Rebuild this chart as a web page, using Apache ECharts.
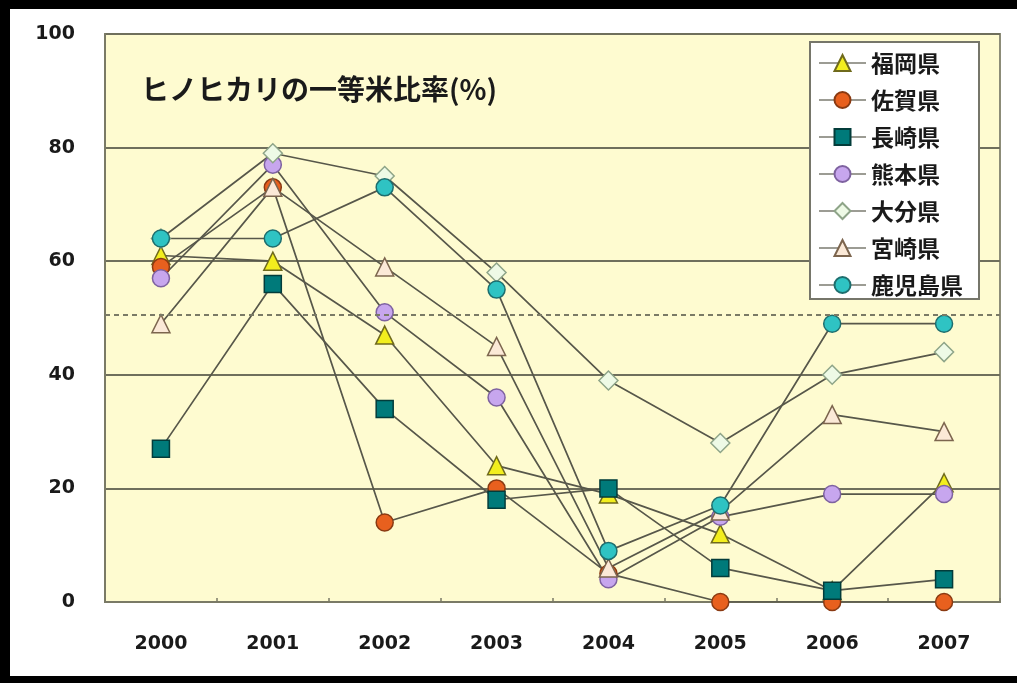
<!DOCTYPE html>
<html>
<head>
<meta charset="utf-8">
<script src="https://cdn.jsdelivr.net/npm/echarts@6/dist/echarts.min.js"></script>
<style>
  html, body { margin: 0; padding: 0; background: #ffffff; }
  #frame { position: relative; width: 1017px; height: 683px; background: #000; overflow: hidden; }
  #chart { position: absolute; left: 10px; top: 9px; width: 1007px; height: 667px; background: #fff; }
</style>
</head>
<body>
<div id="frame"><div id="chart"></div></div>
<script>
// 年度（カテゴリ）
const years = ['2000', '2001', '2002', '2003', '2004', '2005', '2006', '2007'];

// 各県のヒノヒカリ一等米比率（%）
const fukuoka   = [61, 60, 47, 24, 19, 12, 2, 21];
const saga      = [59, 73, 14, 20, 5, 0, 0, 0];
const nagasaki  = [27, 56, 34, 18, 20, 6, 2, 4];
const kumamoto  = [57, 77, 51, 36, 4, 15, 19, 19];
const oita      = [64, 79, 75, 58, 39, 28, 40, 44];
const miyazaki  = [49, 73, 59, 45, 6, 16, 33, 30];
const kagoshima = [64, 64, 73, 55, 9, 17, 49, 49];

// 縦軸の目盛りと参考線
const yTicks = [0, 20, 40, 60, 80, 100];
const referenceLevel = 50.5;

const titleText = 'ヒノヒカリの一等米比率(%)';

const lineColor = '#57574a';
const cjkFont = '"Noto Sans CJK JP", "Noto Sans", sans-serif';
const numFont = '"DejaVu Sans", "Liberation Sans", sans-serif';

function makeSeries(name, data, symbol, fill, border, extra) {
  return Object.assign({
    name: name,
    type: 'line',
    data: data,
    symbol: symbol,
    symbolSize: symbol === 'triangle' ? 18 : (symbol === 'diamond' ? 19 : 17),
    showAllSymbol: true,
    lineStyle: { color: lineColor, width: 1.7 },
    itemStyle: { color: fill, borderColor: border, borderWidth: 1.5 },
    emphasis: { disabled: true },
    animation: false
  }, extra || {});
}

const chart = echarts.init(document.getElementById('chart'), null, { renderer: 'canvas' });

chart.setOption({
  backgroundColor: '#ffffff',
  animation: false,
  title: {
    text: titleText,
    left: 126,
    top: 61,
    textStyle: { fontFamily: cjkFont, fontSize: 28, fontWeight: 'bold', color: '#1a1a1a' }
  },
  grid: {
    left: 95, right: 17, top: 25, bottom: 74,
    show: true,
    backgroundColor: '#fefbd0',
    borderColor: '#8c8c78',
    borderWidth: 2
  },
  legend: {
    orient: 'vertical',
    left: 800,
    top: 33,
    backgroundColor: '#ffffff',
    borderColor: '#76766a',
    borderWidth: 2,
    padding: [9, 16, 2, 8],
    itemWidth: 47,
    itemHeight: 20,
    itemGap: 13,
    lineStyle: { color: '#9c9c94', width: 2 },
    textStyle: { fontFamily: cjkFont, fontSize: 23, fontWeight: 'bold', color: '#1a1a1a', lineHeight: 24 },
    selectedMode: false
  },
  xAxis: {
    type: 'category',
    data: years,
    boundaryGap: true,
    axisLine: { lineStyle: { color: '#7a7a66', width: 2 } },
    axisTick: { show: true, inside: true, length: 4, lineStyle: { color: '#7a7a66', width: 1.5 } },
    axisLabel: { margin: 33, fontFamily: numFont, fontSize: 19, fontWeight: 'bold', color: '#1a1a1a' },
    splitLine: { show: false }
  },
  yAxis: {
    type: 'value',
    min: yTicks[0],
    max: yTicks[yTicks.length - 1],
    interval: 20,
    axisLine: { show: true, lineStyle: { color: '#7a7a66', width: 2 } },
    axisTick: { show: false },
    axisLabel: { margin: 30, fontFamily: numFont, fontSize: 19, fontWeight: 'bold', color: '#1a1a1a' },
    splitLine: { show: true, lineStyle: { color: '#6f6f5c', width: 2 } }
  },
  series: [
    makeSeries('福岡県', fukuoka, 'triangle', '#f2ee1e', '#6f6a1c', {
      markLine: {
        silent: true,
        symbol: 'none',
        label: { show: false },
        lineStyle: { color: '#7a7a66', width: 2, type: [5, 4] },
        data: [{ yAxis: referenceLevel }]
      }
    }),
    makeSeries('佐賀県', saga, 'circle', '#e8601e', '#8a3a12'),
    makeSeries('長崎県', nagasaki, 'rect', '#007a7a', '#033c3a'),
    makeSeries('熊本県', kumamoto, 'circle', '#c7a6ee', '#7e62a0'),
    makeSeries('大分県', oita, 'diamond', '#eefae6', '#8ea488'),
    makeSeries('宮崎県', miyazaki, 'triangle', '#fbe9d7', '#7c654e'),
    makeSeries('鹿児島県', kagoshima, 'circle', '#2fc3c3', '#1e6e6e')
  ]
});
</script>
</body>
</html>
